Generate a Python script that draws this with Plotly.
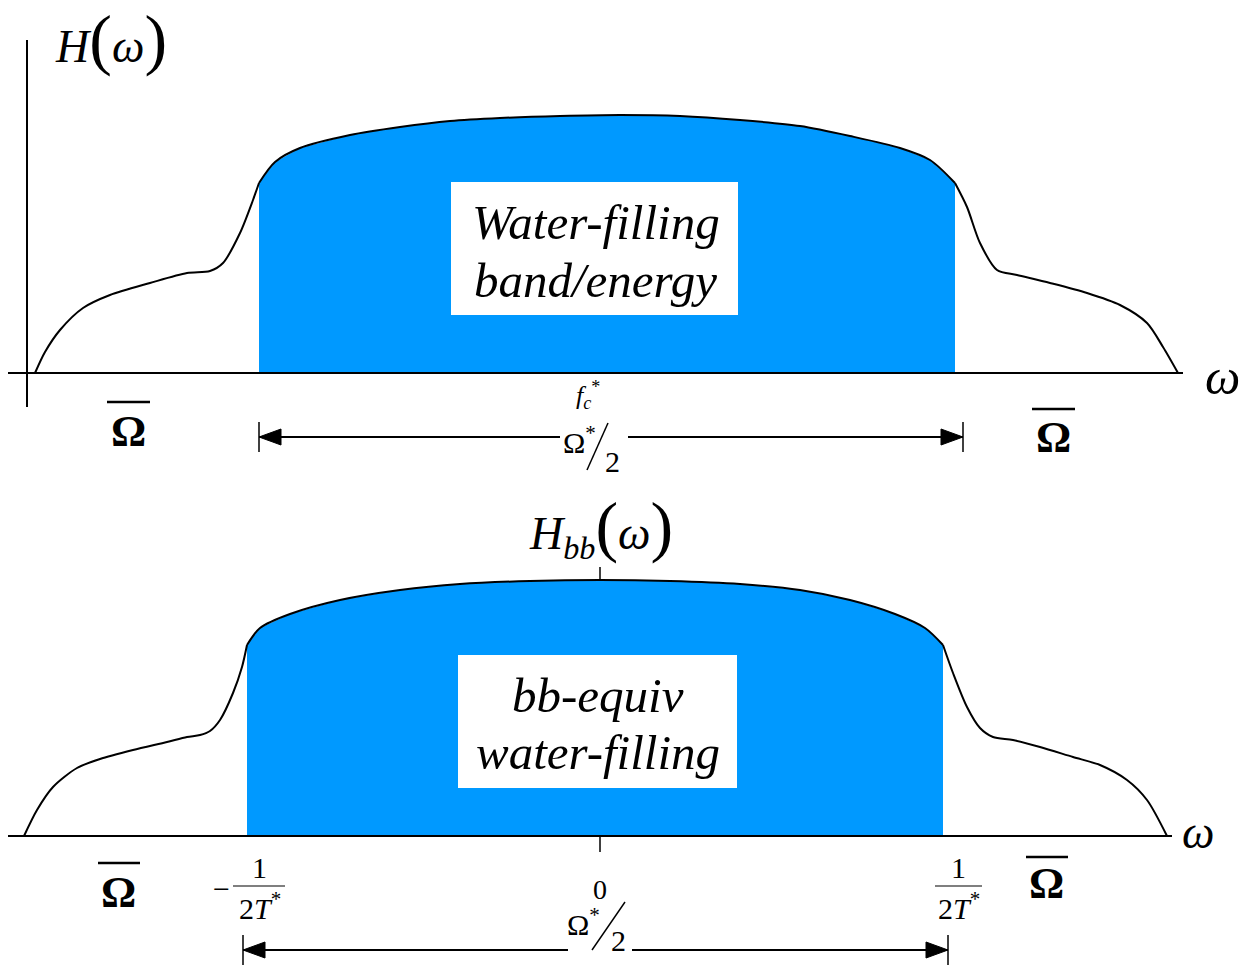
import plotly.graph_objects as go

# ---------------- data (top panel: H(omega), bottom: H_bb(omega)) ----------------
top_left_w = [0.08, 0.18, 0.33, 0.56, 0.83, 1.23, 1.60, 1.83, 1.96, 2.13, 2.26, 2.32]
top_left_h = [0.00, 0.21, 0.43, 0.65, 0.78, 0.90, 1.00, 1.02, 1.10, 1.40, 1.73, 1.90]
top_arc_w = [2.32, 2.48, 2.73, 3.23, 3.73, 4.23, 4.73, 5.33, 5.93, 6.53, 7.13, 7.73, 8.23, 8.73, 9.03, 9.28]
top_arc_h = [1.90, 2.11, 2.25, 2.38, 2.46, 2.52, 2.55, 2.57, 2.58, 2.57, 2.53, 2.47, 2.37, 2.25, 2.13, 1.90]
top_right_w = [9.28, 9.40, 9.53, 9.70, 9.90, 10.23, 10.60, 10.93, 11.20, 11.36, 11.51]
top_right_h = [1.90, 1.66, 1.30, 1.03, 0.98, 0.90, 0.80, 0.68, 0.50, 0.26, 0.00]

bot_left_w = [-5.76, -5.63, -5.47, -5.23, -5.00, -4.67, -4.33, -4.13, -4.00, -3.90, -3.80, -3.67, -3.58, -3.53]
bot_left_h = [0.00, 0.26, 0.49, 0.68, 0.77, 0.86, 0.94, 0.99, 1.01, 1.05, 1.16, 1.43, 1.69, 1.91]
bot_arc_w = [-3.53, -3.40, -3.10, -2.60, -2.00, -1.40, -0.70, 0.00, 0.70, 1.40, 2.00, 2.50, 2.95, 3.25, 3.43]
bot_arc_h = [1.91, 2.08, 2.22, 2.36, 2.46, 2.52, 2.55, 2.56, 2.55, 2.52, 2.46, 2.36, 2.22, 2.08, 1.91]
bot_right_w = [3.43, 3.53, 3.67, 3.80, 3.93, 4.13, 4.40, 4.73, 5.00, 5.27, 5.47, 5.67]
bot_right_h = [1.91, 1.63, 1.29, 1.08, 0.99, 0.96, 0.89, 0.79, 0.71, 0.56, 0.36, 0.00]

top_box_text = ["Water-filling", "band/energy"]
bot_box_text = ["bb-equiv", "water-filling"]

BLUE = "#0099FF"
FONT = "Liberation Serif, Times New Roman, serif"

fig = go.Figure()


def add_panel(xa, ya, lw, lh, aw, ah, rw, rh):
    # blue water-filling region
    fw = [aw[0]] + aw + [aw[-1]]
    fh = [0] + ah + [0]
    fig.add_trace(go.Scatter(x=fw, y=fh, fill="toself", fillcolor=BLUE, mode="none",
                             xaxis=xa, yaxis=ya, hoverinfo="skip", showlegend=False))
    for w, h in ((lw, lh), (aw, ah), (rw, rh)):
        fig.add_trace(go.Scatter(x=w, y=h, mode="lines",
                                 line=dict(color="black", width=2, shape="spline", smoothing=0.8),
                                 xaxis=xa, yaxis=ya, hoverinfo="skip", showlegend=False))


add_panel("x", "y", top_left_w, top_left_h, top_arc_w, top_arc_h, top_right_w, top_right_h)
add_panel("x2", "y2", bot_left_w, bot_left_h, bot_arc_w, bot_arc_h, bot_right_w, bot_right_h)


def tri(xa, ya, tip_w, tip_h, base_w, half):
    fig.add_trace(go.Scatter(x=[tip_w, base_w, base_w, tip_w], y=[tip_h, tip_h + half, tip_h - half, tip_h],
                             fill="toself", fillcolor="black", mode="lines", line=dict(color="black", width=1),
                             xaxis=xa, yaxis=ya, hoverinfo="skip", showlegend=False))


# arrowheads
tri("x", "y", top_arc_w[0], -0.64, top_arc_w[0] + 0.22, 0.08)
tri("x", "y", 9.36, -0.64, 9.36 - 0.22, 0.08)
tri("x2", "y2", -3.57, -1.14, -3.57 + 0.22, 0.08)
tri("x2", "y2", 3.48, -1.14, 3.48 - 0.22, 0.08)

shapes = []


def line(xr, yr, x0, y0, x1, y1, w=2):
    shapes.append(dict(type="line", xref=xr, yref=yr, x0=x0, y0=y0, x1=x1, y1=y1,
                       line=dict(color="black", width=w)))


def rect(xr, yr, x0, y0, x1, y1):
    shapes.append(dict(type="rect", xref=xr, yref=yr, x0=x0, y0=y0, x1=x1, y1=y1,
                       fillcolor="white", line=dict(width=0), layer="above"))


# top axes
line("x", "y", -0.19, 0, 11.56, 0)
line("x", "y", 0, 3.33, 0, -0.34)
# top dimension arrow
line("x", "y", 2.32, -0.64, 5.33, -0.64)
line("x", "y", 6.01, -0.64, 9.36, -0.64)
line("x", "y", 2.32, -0.49, 2.32, -0.79, 1.5)
line("x", "y", 9.36, -0.49, 9.36, -0.79, 1.5)
# slash of Omega*/2 (top)
line("x", "y", 5.60, -0.97, 5.81, -0.50, 1.5)
# top text box
rect("x", "y", 4.24, 1.91, 7.11, 0.58)
# top overlines
line("x", "y", 0.80, -0.29, 1.23, -0.29, 2.5)
line("x", "y", 10.05, -0.36, 10.48, -0.36, 2.5)

# bottom axes
line("x2", "y2", -5.92, 0, 5.72, 0)
line("x2", "y2", 0, 2.56, 0, 2.69, 1.5)
line("x2", "y2", 0, 0, 0, -0.16, 1.5)
# bottom dimension arrow
line("x2", "y2", -3.57, -1.14, -0.32, -1.14)
line("x2", "y2", 0.32, -1.14, 3.48, -1.14)
line("x2", "y2", -3.57, -0.99, -3.57, -1.29, 1.5)
line("x2", "y2", 3.48, -0.99, 3.48, -1.29, 1.5)
# slash of Omega*/2 (bottom)
line("x2", "y2", -0.08, -1.14, 0.25, -0.66, 1.5)
# bottom text box
rect("x2", "y2", -1.42, 1.81, 1.37, 0.48)
# fraction bars
line("x2", "y2", -3.67, -0.50, -3.15, -0.50, 1.2)
line("x2", "y2", 3.35, -0.50, 3.82, -0.50, 1.2)
# bottom overlines
line("x2", "y2", -5.02, -0.27, -4.60, -0.27, 2.5)
line("x2", "y2", 4.26, -0.21, 4.68, -0.21, 2.5)

ann = []


def txt(xr, yr, x, y, s, size, xanchor="center"):
    ann.append(dict(xref=xr, yref=yr, x=x, y=y, text=s, showarrow=False, xanchor=xanchor, yanchor="middle",
                    font=dict(family=FONT, size=size, color="black")))


PAR = "<span style='font-size:68px'>%s</span>"

# top labels
txt("x", "y", 0.84, 3.34, "<i>H</i>" + PAR % "(" + "<i>ω</i>" + PAR % ")", 46)
txt("x", "y", 11.95, -0.04, "<i>ω</i>", 50)
txt("x", "y", 5.69, 1.51, "<i>" + top_box_text[0] + "</i>", 49)
txt("x", "y", 5.68, 0.93, "<i>" + top_box_text[1] + "</i>", 49)
txt("x", "y", 5.61, -0.22, "<i>f<sub>c</sub></i><sup>*</sup>", 26)
txt("x", "y", 5.52, -0.67, "Ω<sup>*</sup>", 30)
txt("x", "y", 5.85, -0.88, "2", 30)
txt("x", "y", 1.01, -0.58, "<b>Ω</b>", 44)
txt("x", "y", 10.26, -0.64, "<b>Ω</b>", 44)

# bottom labels
txt("x2", "y2", 0.01, 3.09, "<i>H</i><sub><i>bb</i></sub>" + PAR % "(" + "<i>ω</i>" + PAR % ")", 46)
txt("x2", "y2", 5.98, 0.04, "<i>ω</i>", 46)
txt("x2", "y2", -0.02, 1.41, "<i>" + bot_box_text[0] + "</i>", 49)
txt("x2", "y2", -0.02, 0.84, "<i>" + bot_box_text[1] + "</i>", 49)
txt("x2", "y2", 0.0, -0.53, "0", 28)
txt("x2", "y2", -0.17, -0.86, "Ω<sup>*</sup>", 30)
txt("x2", "y2", 0.18, -1.04, "2", 30)
txt("x2", "y2", -3.79, -0.52, "−", 30)
txt("x2", "y2", -3.41, -0.31, "1", 30)
txt("x2", "y2", -3.40, -0.70, "2<i>T</i><sup>*</sup>", 30)
txt("x2", "y2", 3.58, -0.31, "1", 30)
txt("x2", "y2", 3.59, -0.70, "2<i>T</i><sup>*</sup>", 30)
txt("x2", "y2", -4.82, -0.56, "<b>Ω</b>", 44)
txt("x2", "y2", 4.46, -0.47, "<b>Ω</b>", 44)

SPLIT = 1 - 480 / 966
ax_common = dict(visible=False, fixedrange=True)
fig.update_layout(
    width=1252, height=966, margin=dict(l=0, r=0, t=0, b=0),
    paper_bgcolor="white", plot_bgcolor="white", showlegend=False,
    xaxis=dict(domain=[0, 1], range=[-0.27, 12.25], anchor="y", **ax_common),
    yaxis=dict(domain=[SPLIT, 1], range=[-1.07, 3.73], anchor="x", **ax_common),
    xaxis2=dict(domain=[0, 1], range=[-6.0, 6.52], anchor="y2", **ax_common),
    yaxis2=dict(domain=[0, SPLIT], range=[-1.30, 3.56], anchor="x2", **ax_common),
    shapes=shapes, annotations=ann,
)

fig.write_html("out.html")
